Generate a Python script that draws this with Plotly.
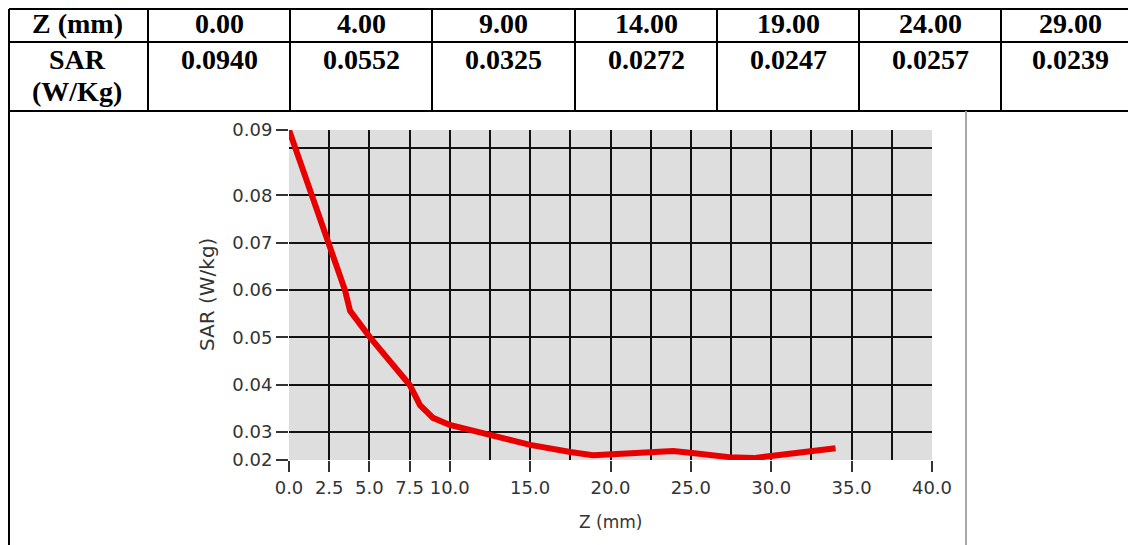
import numpy as np
import plotly.graph_objects as go

# ---- table data ----
table_header = ["Z (mm)", "0.00", "4.00", "9.00", "14.00", "19.00", "24.00", "29.00"]
row_label = ["SAR", "(W/Kg)"]
table_row = ["0.0940", "0.0552", "0.0325", "0.0272", "0.0247", "0.0257", "0.0239"]

# ---- curve data ----
z_curve = [0.0, 1.43, 2.43, 3.48, 3.8, 5.04, 7.5, 8.15, 8.96, 10.0, 12.5, 15.0, 17.5, 18.9,
           20.1, 22.6, 23.9, 25.1, 27.4, 28.9, 30.0, 32.5, 34.0]
sar_curve = [0.0938, 0.080, 0.070, 0.060, 0.0556, 0.050, 0.040, 0.0357, 0.033, 0.0315, 0.0294,
             0.0273, 0.0258, 0.0251, 0.0253, 0.0256, 0.0260, 0.0256, 0.0247, 0.0245, 0.0249,
             0.0260, 0.0266]

# ---- axes ----
x_range = [0, 40]
y_range = [0.0241, 0.0938]
x_tick_vals = [0, 2.5, 5, 7.5, 10, 15, 20, 25, 30, 35, 40]
x_tick_text = ["0.0", "2.5", "5.0", "7.5", "10.0", "15.0", "20.0", "25.0", "30.0", "35.0", "40.0"]
y_tick_vals = [y_range[0], 0.03, 0.04, 0.05, 0.06, 0.07, 0.08, y_range[1]]
y_tick_text = ["0.02", "0.03", "0.04", "0.05", "0.06", "0.07", "0.08", "0.09"]
x_grid = list(np.arange(2.5, 40, 2.5))
y_grid = [0.03, 0.04, 0.05, 0.06, 0.07, 0.08, 0.09]

W, H = 1136, 545
OFF = 8  # page body margin
# plot area in screen pixels
PL, PR, PT, PB = 289, 932, 130, 460


def px(x):
    return (x - PL) / (PR - PL)


def py(y):
    return (PB - y) / (PB - PT)


# layout geometry of the table (screen pixels)
col_edges = [9, 148, 290, 432, 575, 717, 859, 1001, 1143]
row_edges = [9, 42, 111]
tcol = "black"
serif = dict(family="Liberation Serif", size=28, color="black")

shapes = []
annotations = []
for xe in col_edges[:-1]:
    shapes.append(dict(type="line", xref="paper", yref="paper", x0=px(xe), x1=px(xe),
                       y0=py(row_edges[-1]), y1=py(row_edges[0]), line=dict(color=tcol, width=2)))
for ye in row_edges:
    shapes.append(dict(type="line", xref="paper", yref="paper", x0=px(col_edges[0]), x1=px(1150),
                       y0=py(ye), y1=py(ye), line=dict(color=tcol, width=2)))
# chart cell borders
shapes.append(dict(type="line", xref="paper", yref="paper", x0=px(col_edges[0]), x1=px(col_edges[0]),
                   y0=py(560), y1=py(row_edges[-1]), line=dict(color=tcol, width=2)))
shapes.append(dict(type="line", xref="paper", yref="paper", x0=px(966), x1=px(966),
                   y0=py(560), y1=py(row_edges[-1]), line=dict(color="#a8a8a8", width=2)))

centers = [(col_edges[i] + col_edges[i + 1]) / 2 for i in range(len(col_edges) - 1)]
centers[0] = 77
centers[-1] = 1070
for c, t in zip(centers, table_header):
    annotations.append(dict(text="<b>%s</b>" % t, x=px(c), y=py(24), xref="paper", yref="paper",
                            showarrow=False, xanchor="center", yanchor="middle", font=serif))
annotations.append(dict(text="<b>%s</b>" % row_label[0], x=px(centers[0]), y=py(59), xref="paper",
                        yref="paper", showarrow=False, xanchor="center", yanchor="middle", font=serif))
annotations.append(dict(text="<b>%s</b>" % row_label[1], x=px(centers[0]), y=py(92), xref="paper",
                        yref="paper", showarrow=False, xanchor="center", yanchor="middle", font=serif))
for c, t in zip(centers[1:], table_row):
    annotations.append(dict(text="<b>%s</b>" % t, x=px(c), y=py(59), xref="paper", yref="paper",
                            showarrow=False, xanchor="center", yanchor="middle", font=serif))

sans = dict(family="DejaVu Sans", size=17, color="#333333")
annotations.append(dict(text="Z (mm)", x=px(610), y=py(522), xref="paper", yref="paper",
                        showarrow=False, xanchor="center", yanchor="middle", font=sans))
annotations.append(dict(text="SAR (W/kg)", x=px(207), y=py(295), xref="paper", yref="paper",
                        showarrow=False, xanchor="center", yanchor="middle", textangle=-90,
                        font=dict(family="DejaVu Sans", size=20, color="#333333")))

fig = go.Figure()

# invisible trace for grid axes
fig.add_trace(go.Scatter(x=[], y=[], xaxis="x2", yaxis="y2", showlegend=False, hoverinfo="skip"))

fig.add_trace(go.Scatter(
    x=z_curve, y=sar_curve, mode="lines",
    line=dict(color="rgb(232,0,0)", width=6),
    showlegend=False,
))

tick_font = dict(family="DejaVu Sans", size=18, color="#333333")

fig.update_layout(
    width=W, height=H,
    margin=dict(l=PL - OFF, r=W - (PR - OFF), t=PT - OFF, b=H - (PB - OFF), pad=0, autoexpand=False),
    paper_bgcolor="white",
    plot_bgcolor="#dedede",
    showlegend=False,
    xaxis=dict(
        range=x_range, tickmode="array", tickvals=x_tick_vals, ticktext=x_tick_text,
        showgrid=False, zeroline=False, showline=False,
        ticks="outside", ticklen=11, tickwidth=2, tickcolor="#333333",
        tickfont=tick_font,
    ),
    yaxis=dict(
        range=y_range, tickmode="array", tickvals=y_tick_vals, ticktext=y_tick_text,
        showgrid=False, zeroline=False, showline=False,
        ticks="outside", ticklen=12, tickwidth=2, tickcolor="#333333",
        tickfont=tick_font,
    ),
    xaxis2=dict(
        range=x_range, overlaying="x", anchor="y2", tickmode="array", tickvals=x_grid,
        showgrid=True, gridcolor="#111111", gridwidth=2, showticklabels=False,
        ticks="", zeroline=False, showline=False,
    ),
    yaxis2=dict(
        range=y_range, overlaying="y", anchor="x2", tickmode="array", tickvals=y_grid,
        showgrid=True, gridcolor="#111111", gridwidth=2, showticklabels=False,
        ticks="", zeroline=False, showline=False,
    ),
    annotations=annotations,
    shapes=shapes,
)

fig.write_html("out.html", config={"displayModeBar": False})
